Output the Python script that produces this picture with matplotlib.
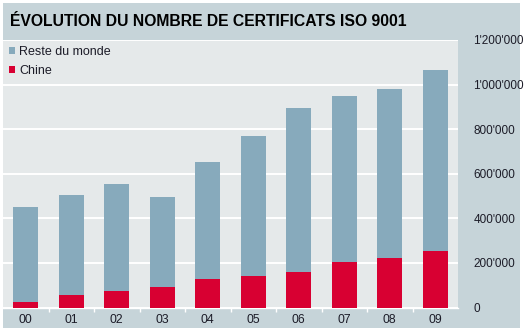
import matplotlib.pyplot as plt
from matplotlib.patches import Rectangle
from matplotlib.ticker import FuncFormatter, MultipleLocator
import numpy as np

years = ["00", "01", "02", "03", "04", "05", "06", "07", "08", "09"]
totals = [453000, 504000, 555000, 494000, 653000, 770000, 895000, 947000, 980000, 1064000]
chine = [24000, 57000, 75000, 93000, 130000, 142000, 160000, 206000, 222000, 252000]
reste = [t - c for t, c in zip(totals, chine)]

BOX = "#c6d4d9"
PLOT_BG = "#e5e9ea"
BLUE = "#87aabc"
RED = "#d80032"
TXT = "#1c1c28"

plt.rcParams["font.family"] = ["Liberation Sans", "DejaVu Sans"]

W, H = 525, 334
fig = plt.figure(figsize=(W / 100, H / 100), dpi=100, facecolor="white")

# outer box
fig.patches.append(Rectangle((3 / W, 1 - 328 / H), 517 / W, 325 / H,
                             transform=fig.transFigure, facecolor=BOX,
                             edgecolor="none", zorder=-5))

ax = fig.add_axes([3 / W, 1 - 307.5 / H, 455 / W, 267.5 / H])
ax.set_zorder(2)
ax.set_facecolor(PLOT_BG)

x = np.arange(len(years))
ax.bar(x, chine, width=0.55, color=RED, label="Chine", zorder=3)
ax.bar(x, reste, bottom=chine, width=0.55, color=BLUE, label="Reste du monde", zorder=3)

ax.set_xlim(-0.5, len(years) - 0.5)
ax.set_ylim(0, 1200000)
ax.yaxis.set_major_locator(MultipleLocator(200000))
ax.yaxis.set_major_formatter(FuncFormatter(lambda v, p: f"{int(v):,}".replace(",", "'")))
ax.yaxis.tick_right()
ax.grid(axis="y", color="white", linewidth=1.4, zorder=1)
ax.set_axisbelow(True)

ax.set_xticks(x)
ax.set_xticklabels(years)
ax.set_xticks(x[:-1] + 0.5, minor=True)
ax.tick_params(axis="x", which="major", length=0, pad=4.5, labelsize=8.8, labelcolor=TXT)
ax.tick_params(axis="x", which="minor", length=3, color="white", width=1)
ax.tick_params(axis="y", length=0, pad=11, labelsize=8.5, labelcolor=TXT)

for s in ["top", "left", "right"]:
    ax.spines[s].set_visible(False)
ax.spines["bottom"].set_color("white")
ax.spines["bottom"].set_linewidth(1)

handles, labels = ax.get_legend_handles_labels()
ax.legend(handles[::-1], labels[::-1], loc="upper left", frameon=False,
          fontsize=9, handlelength=0.5, handleheight=0.5, handletextpad=0.35,
          labelspacing=0.6, borderaxespad=0, borderpad=0.45, labelcolor=TXT,
          bbox_to_anchor=(0.0, 1.0))

fig.text(10 / W, 1 - 22 / H, "ÉVOLUTION DU NOMBRE DE CERTIFICATS ISO 9001",
         fontweight="bold", fontsize=11.3, color="black", va="center", ha="left")

fig.savefig("out.png", dpi=100, facecolor="white")
